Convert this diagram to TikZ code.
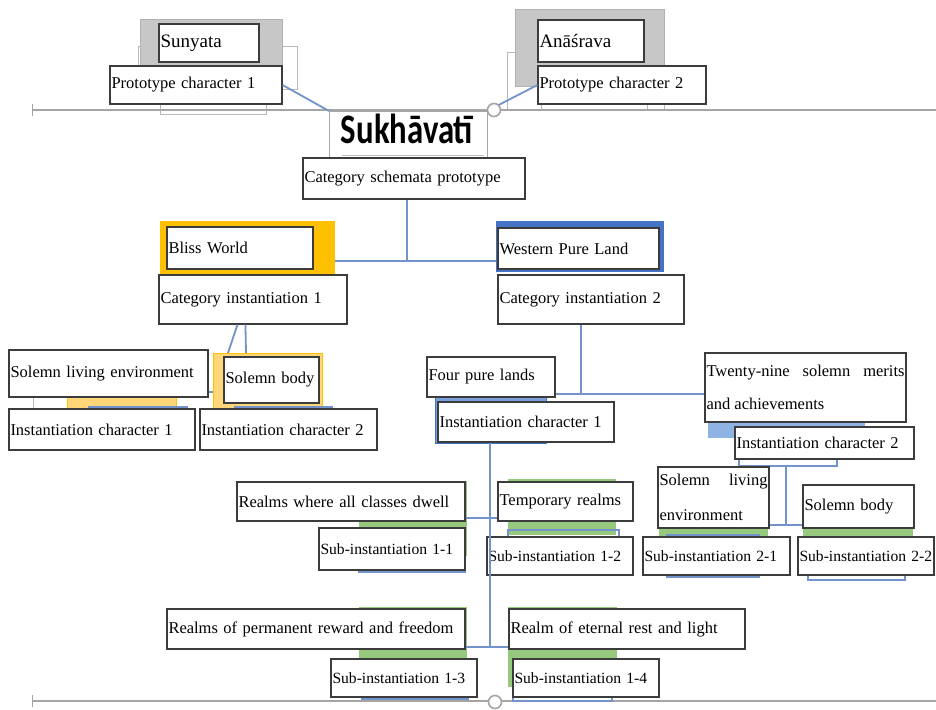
\documentclass[tikz,border=0pt]{standalone}
\usepackage{fontspec}
\setmainfont{Liberation Serif}
\newfontfamily\sukfont[FakeStretch=0.78]{Carlito}
\usetikzlibrary{calc}
\definecolor{connc}{RGB}{114,147,203}
\definecolor{boxline}{RGB}{60,60,60}
\definecolor{gold}{RGB}{255,192,0}
\definecolor{lgold}{RGB}{255,215,120}
\definecolor{dblue}{RGB}{68,114,196}
\definecolor{lblue}{RGB}{143,180,227}
\definecolor{mblue}{RGB}{120,160,220}
\definecolor{lgreen}{RGB}{150,200,125}
\definecolor{gline}{RGB}{165,165,165}
\tikzset{
  box/.style={draw=boxline, line width=1.1pt, fill=white, inner xsep=1.5pt, inner ysep=0pt,
    align=left, font=\fontsize{16.5}{20}\selectfont, text=black},
  subbox/.style={font=\fontsize{15.6}{20}\selectfont},
  bgrect/.style={inner sep=0pt, outer sep=0pt},
  conn/.style={draw=connc, line width=1.8pt},
  grayline/.style={draw=gline, line width=1.6pt},
  ghost/.style={draw=black!28, line width=1pt},
  blueout/.style={draw=connc, line width=1.3pt},
}
\newcommand\mybox[7][]{%
  \pgfmathsetmacro\mbw{#5-#3}\pgfmathsetmacro\mbh{#6-#4}\pgfmathsetmacro\mbt{#5-#3-3}%
  \node[box,minimum width=\mbw pt,minimum height=\mbh pt,text width=\mbt pt,#1] (#2) at ({(#3+#5)/2},{(#4+#6)/2}) {#7};}
\newcommand\myrect[6][]{%
  \pgfmathsetmacro\mbw{#5-#3}\pgfmathsetmacro\mbh{#6-#4}%
  \node[bgrect,minimum width=\mbw pt,minimum height=\mbh pt,#1] (#2) at ({(#3+#5)/2},{(#4+#6)/2}) {};}
\begin{document}
\begin{tikzpicture}[x=1pt,y=-1pt]
\useasboundingbox (0,0) rectangle (936,709);
\fill[white] (0,0) rectangle (936,709);

% ---- background residue shapes (top) ----
\myrect[ghost]{gh1}{138}{47}{297}{89}
\myrect[ghost]{gh2}{160}{95}{266}{114}
\myrect[fill=black!22,draw=black!30]{g1}{140}{19}{282}{67}
\myrect[ghost]{gh3}{507}{53}{664}{110}
\myrect[ghost]{gh4}{541}{90}{647}{110}
\myrect[fill=black!22,draw=black!30]{g2}{515}{9}{664}{86}

% ---- gray guide lines ----
\coordinate (tla) at (32,110);
\coordinate (tlb) at (936,110);
\coordinate (bla) at (32,701);
\coordinate (blb) at (936,701);
\draw[grayline] (tla) -- (tlb);
\draw[grayline] (bla) -- (blb);
\draw[grayline,line width=1pt] ($(tla)+(0,-6)$) -- ($(tla)+(0,6)$);
\draw[grayline,line width=1pt] ($(bla)+(0,-6)$) -- ($(bla)+(0,6)$);

% ---- coloured background rectangles ----
\myrect[fill=gold]{bwg}{160}{221}{335}{275}
\myrect[fill=lgold,draw=gold,line width=1pt]{lg1}{67}{385}{176}{420}
\myrect[fill=lgold,draw=gold,line width=1pt]{sbg}{213}{353}{322}{409}
\myrect[blueout]{bo1}{89}{407}{187}{430}
\myrect[blueout]{bo2}{235}{407}{332}{430}
\myrect[fill=dblue]{wplb}{496}{221}{664}{272}
\myrect[fill=mblue,draw=dblue,line width=1pt]{fplb}{435}{356}{546}{443}
\myrect[fill=lblue]{twb}{708}{353}{865}{438}
\myrect[blueout]{icb}{739}{440}{837}{466}
\myrect[fill=lgreen]{gr1}{359}{481}{467}{556}
\myrect[blueout]{bo3}{359}{545}{465}{572}
\myrect[fill=lgreen]{gr2}{508}{479}{616}{535}
\myrect[blueout]{bo4}{508}{530}{619}{545}
\myrect[fill=lgreen]{gr3}{659}{520}{768}{537}
\myrect[blueout]{bo5}{667}{535}{759}{577}
\myrect[fill=lgreen]{gr4}{803}{485}{913}{537}
\myrect[blueout]{bo6}{808}{560}{905}{580}
\myrect[fill=lgreen]{gr5}{359}{607}{467}{658}
\myrect[blueout]{bo7}{362}{680}{468}{699}
\myrect[fill=lgreen]{gr6}{508}{607}{617}{687}
\myrect[blueout]{bo8}{513}{680}{612}{701}
\draw[ghost] (33,397) -- (33,409);

% ---- Sukhavati box ----
\myrect[draw=black!35,line width=1pt,fill=white]{suk}{329}{111}{487}{158}
\draw[black!25,line width=1pt] ($(suk.south west)+(13,-3)$) -- ($(suk.south east)+(-3,-3)$);
\node[anchor=base,inner sep=0pt,font=\sukfont\bfseries\fontsize{42}{44}\selectfont] (sukt) at (407,143) {Sukhāvatī};

% ---- junction coordinates ----
\coordinate (y392) at (0,392);
\coordinate (j1) at (407,261);
\coordinate (j2) at (581,394);
\coordinate (j3a) at (490,518);
\coordinate (j3b) at (490,647);
\coordinate (j4) at (786,525);

% ---- boxes ----
\mybox[font=\fontsize{19}{22}\selectfont]{sun}{159}{24}{259}{62}{Sunyata}
\mybox{p1}{110}{66}{282}{104}{Prototype character 1}
\mybox[font=\fontsize{19}{22}\selectfont]{ana}{538}{20}{644}{62}{Anāśrava}
\mybox{p2}{538}{66}{706}{104}{Prototype character 2}
\mybox{csp}{303}{158}{525}{199}{Category schemata prototype}
\mybox{bw}{167}{227}{313}{269}{Bliss World}
\mybox{ci1}{159}{275}{347}{324}{Category instantiation 1\\[8pt]}
\mybox{wpl}{498}{228}{659}{269}{Western Pure Land}
\mybox{ci2}{498}{275}{684}{324}{Category instantiation 2\\[8pt]}
\mybox{sle}{9}{350}{208}{397}{Solemn living environment\\[4pt]}
\mybox{sb}{224}{357}{319}{403}{Solemn body}
\mybox{ic1}{9}{409}{195}{450}{Instantiation character 1}
\mybox{ic2}{200}{409}{377}{450}{Instantiation character 2}
\mybox{fpl}{427}{357}{555}{397}{Four pure lands}
\mybox{ic3}{438}{402}{614}{442}{Instantiation character 1}
\mybox[align=justify,font=\fontsize{16.5}{32.5}\selectfont]{tw}{705}{353}{906}{422}{Twenty-nine solemn merits and achievements}
\mybox{ic4}{735}{427}{914}{459}{Instantiation character 2}
\mybox{r11}{237}{482}{465}{521}{Realms where all classes dwell}
\mybox[subbox]{s11}{319}{528}{465}{570}{\mbox{Sub-instantiation 1-1}}
\mybox{tr}{498}{482}{633}{521}{Temporary realms}
\mybox[subbox]{s12}{487}{537}{633}{575}{\mbox{Sub-instantiation 1-2}}
\mybox[align=justify,font=\fontsize{16.5}{35}\selectfont]{sle2}{658}{467}{769}{528}{Solemn living environment}
\mybox[subbox]{s21}{643}{537}{790}{575}{\mbox{Sub-instantiation 2-1}}
\mybox{sb2}{803}{485}{914}{528}{Solemn body}
\mybox[subbox]{s22}{798}{537}{934}{575}{\mbox{Sub-instantiation 2-2}}
\mybox{r13}{167}{609}{465}{649}{Realms of permanent reward and freedom}
\mybox[subbox]{s13}{331}{659}{477}{697}{\mbox{Sub-instantiation 1-3}}
\mybox{r14}{509}{609}{745}{649}{Realm of eternal rest and light}
\mybox[subbox]{s14}{513}{659}{659}{697}{\mbox{Sub-instantiation 1-4}}

% ---- connector lines ----
\draw[conn] (p1.east) -- (suk.north west);
\draw[conn] (p2.west) -- (suk.north east);
\draw[conn] (csp.south -| j1) -- (j1);
\draw[conn] (bwg.east |- j1) -- (wplb.west |- j1);
\draw[conn] ($(ci1.south west)+(79,0)$) -- ($(sbg.north west)+(15,0)$);
\draw[conn] ($(ci1.south west)+(87,0)$) -- ($(sbg.north west)+(33,0)$);
\draw[conn] (sle.east |- y392) -- (sbg.west |- y392);
\draw[conn] (ci2.south -| j2) -- (j2);
\draw[conn] (fpl.east |- j2) -- (tw.west |- j2);
\draw[conn] (ic3.south -| j3a) -- (j3b);
\draw[conn] (r11.east |- j3a) -- (tr.west |- j3a);
\draw[conn] (r13.east |- j3b) -- (r14.west |- j3b);
\draw[conn] (icb.south -| j4) -- (j4);
\draw[conn] (sle2.east |- j4) -- (sb2.west |- j4);

% ---- circles on guide lines ----
\node[circle,draw=gline,line width=1.6pt,fill=white,minimum size=13pt,inner sep=0pt] (c1) at (494,110) {};
\node[circle,draw=gline,line width=1.6pt,fill=white,minimum size=13pt,inner sep=0pt] (c2) at (495,702) {};
\end{tikzpicture}
\end{document}
